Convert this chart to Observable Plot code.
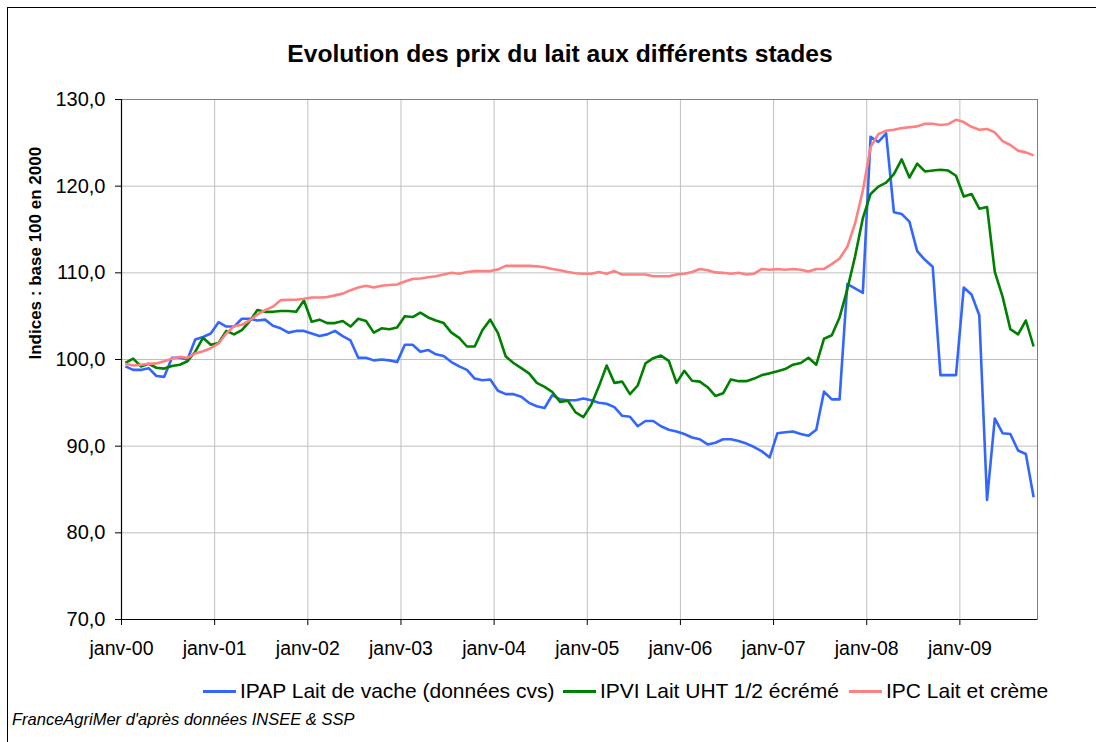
<!DOCTYPE html>
<html>
<head>
<meta charset="utf-8">
<script src="https://cdn.jsdelivr.net/npm/d3@7"></script>
<script src="https://cdn.jsdelivr.net/npm/@observablehq/plot@0.6"></script>
<style>
html, body { margin: 0; padding: 0; background: #fff; }
#chart { position: relative; width: 1096px; height: 742px; overflow: hidden; font-family: "Liberation Sans", Arial, sans-serif; color: #000; }
#border { position: absolute; left: 7px; top: 7px; width: 1120px; height: 780px; border: 1px solid #000; box-sizing: border-box; }
#title { position: absolute; left: 0; width: 1120px; top: 40px; text-align: center; font-weight: bold; font-size: 24.6px; white-space: nowrap; }
#plot { position: absolute; left: 0; top: 80px; }
.item { position: absolute; top: 678px; height: 26px; display: flex; align-items: center; font-size: 21px; white-space: nowrap; }
.sw { display: inline-block; width: 33px; height: 3px; margin-right: 4px; }
#caption { position: absolute; left: 12px; top: 710px; font-style: italic; font-size: 16.5px; white-space: nowrap; }
#plot g[aria-label^="y-axis"] text { font-size: 20px; }
</style>
</head>
<body>
<div id="chart">
  <div id="border"></div>
  <div id="title"></div>
  <div id="plot"></div>
  <div id="legend"></div>
  <div id="caption"></div>
</div>
<script>
// ---- data ----
const titleText = "Evolution des prix du lait aux différents stades";
const yTitle = "Indices : base 100 en 2000";
const captionText = "FranceAgriMer d'après données INSEE & SSP";

const seriesNames = ["IPAP Lait de vache (données cvs)", "IPVI Lait UHT 1/2 écrémé", "IPC Lait et crème"];
const seriesColors = ["#3366ff", "#008000", "#ff8080"];

const monthNames = ["janv", "févr", "mars", "avr", "mai", "juin", "juil", "août", "sept", "oct", "nov", "déc"];
const years = ["00", "01", "02", "03", "04", "05", "06", "07", "08", "09"];
// categories: janv-00 ... oct-09 (118 months)
const months = years.flatMap(y => monthNames.map(m => `${m}-${y}`)).slice(0, 118);

const xTickLabels = ["janv-00", "janv-01", "janv-02", "janv-03", "janv-04", "janv-05", "janv-06", "janv-07", "janv-08", "janv-09"];
const yTicks = [70, 80, 90, 100, 110, 120, 130];

const ipap = [
  99.2, 98.8, 98.8, 99.0, 98.1, 98.0, 100.2, 100.2, 100.0, 102.3, 102.6, 103.0,
  104.3, 103.8, 103.8, 104.7, 104.7, 104.5, 104.6, 103.9, 103.6, 103.1, 103.3, 103.3,
  103.0, 102.7, 102.9, 103.3, 102.7, 102.2, 100.2, 100.2, 99.9, 100.0, 99.9, 99.7,
  101.7, 101.7, 100.9, 101.1, 100.6, 100.4, 99.7, 99.2, 98.8, 97.8, 97.6, 97.7,
  96.4, 96.0, 96.0, 95.7, 95.0, 94.6, 94.4, 95.9, 95.4, 95.3, 95.3, 95.5,
  95.3, 95.0, 94.9, 94.5, 93.5, 93.4, 92.3, 92.9, 92.9, 92.3, 91.9, 91.7,
  91.4, 91.0, 90.8, 90.2, 90.4, 90.8, 90.8, 90.6, 90.3, 89.9, 89.4, 88.7,
  91.5, 91.6, 91.7, 91.4, 91.2, 91.9, 96.3, 95.4, 95.4, 108.7, 108.2, 107.7,
  125.7, 125.1, 126.1, 117.0, 116.8, 115.9, 112.5, 111.5, 110.7, 98.2, 98.2, 98.2,
  108.3, 107.5, 105.1, 83.8, 93.2, 91.5, 91.4, 89.5, 89.1, 84.1
];
const ipvi = [
  99.6, 100.1, 99.2, 99.5, 99.05, 98.95, 99.25, 99.4, 99.8, 100.9, 102.5, 101.7,
  101.9, 103.3, 102.9, 103.4, 104.4, 105.7, 105.5, 105.5, 105.6, 105.6, 105.5, 106.8,
  104.35, 104.6, 104.2, 104.2, 104.45, 103.8, 104.7, 104.45, 103.1, 103.6, 103.5, 103.7,
  105.0, 104.9, 105.4, 104.85, 104.5, 104.2, 103.1, 102.5, 101.5, 101.5, 103.4, 104.6,
  103.05, 100.35, 99.6, 99.0, 98.4, 97.3, 96.85, 96.25, 95.1, 95.25, 93.9, 93.35,
  94.75, 96.9, 99.3, 97.3, 97.45, 96.0, 97.0, 99.55, 100.15, 100.45, 99.85, 97.3,
  98.7, 97.55, 97.45, 96.8, 95.8, 96.1, 97.7, 97.5, 97.5, 97.8, 98.2, 98.4,
  98.65, 98.9, 99.4, 99.6, 100.2, 99.4, 102.4, 102.8, 104.85, 108.1, 111.9, 116.3,
  119.1, 119.95, 120.4, 121.4, 123.1, 121.0, 122.6, 121.7, 121.8, 121.9, 121.8, 121.2,
  118.8, 119.1, 117.4, 117.6, 110.1, 107.25, 103.5, 102.9, 104.5, 101.5
];
const ipc = [
  99.5, 99.3, 99.4, 99.5, 99.55, 99.8, 100.1, 100.3, 100.2, 100.7, 100.95, 101.3,
  101.85, 103.0, 103.85, 104.0, 104.5, 105.2, 105.7, 106.1, 106.85, 106.9, 106.9, 107.0,
  107.15, 107.15, 107.2, 107.4, 107.6, 108.0, 108.3, 108.5, 108.3, 108.5, 108.6, 108.65,
  109.0, 109.3, 109.35, 109.5, 109.6, 109.8, 110.0, 109.9, 110.1, 110.2, 110.2, 110.2,
  110.4, 110.8, 110.8, 110.8, 110.8, 110.75, 110.65, 110.45, 110.3, 110.1, 109.95, 109.9,
  109.9, 110.1, 109.9, 110.2, 109.8, 109.8, 109.8, 109.8, 109.6, 109.6, 109.6, 109.8,
  109.9, 110.1, 110.45, 110.3, 110.05, 110.0, 109.9, 110.0, 109.8, 109.9, 110.45, 110.35,
  110.45, 110.35, 110.45, 110.35, 110.15, 110.45, 110.45, 111.0, 111.65, 113.0, 115.7, 119.5,
  124.5, 126.0, 126.4, 126.5, 126.7, 126.8, 126.9, 127.2, 127.2, 127.05, 127.15, 127.65,
  127.4, 126.85, 126.5, 126.6, 126.2, 125.2, 124.75, 124.1, 123.9, 123.55
];

// ---- build table ----
const seriesValues = [ipap, ipvi, ipc];
const data = [];
seriesValues.forEach((vals, s) => {
  vals.forEach((v, i) => data.push({ series: seriesNames[s], month: months[i], idx: i, value: v }));
});
const nCats = months.length;
const xTickPos = xTickLabels.map(l => months.indexOf(l));
const fmtY = d => d.toFixed(1).replace(".", ",");

const chart = Plot.plot({
  width: 1096,
  height: 585,
  marginLeft: 121,
  marginRight: 59,
  marginTop: 19,
  marginBottom: 46,
  style: { fontFamily: '"Liberation Sans", Arial, sans-serif', fontSize: "19.5px", color: "#000", background: "transparent", overflow: "visible" },
  x: { type: "linear", domain: [0, nCats], ticks: xTickPos, tickFormat: d => xTickLabels[xTickPos.indexOf(d)], tickSize: 6, tickPadding: 16, label: null },
  y: { domain: [70, 130], ticks: yTicks, tickFormat: fmtY, tickSize: 6, tickPadding: 10, label: null },
  color: { domain: seriesNames, range: seriesColors },
  marks: [
    Plot.ruleY(yTicks, { stroke: "#c0c0c0", strokeWidth: 1 }),
    Plot.ruleX(xTickPos, { stroke: "#c0c0c0", strokeWidth: 1 }),
    Plot.frame({ stroke: "#808080" }),
    Plot.lineY(data, { x: d => d.idx + 0.5, y: "value", z: "series", stroke: "series", strokeWidth: 2.6, strokeLinejoin: "round", strokeLinecap: "butt", curve: "linear" }),
    Plot.ruleX([0], { stroke: "#000", strokeWidth: 1.2 }),
    Plot.ruleY([70], { stroke: "#000", strokeWidth: 1.2 }),
    Plot.text([yTitle], { text: d => d, frameAnchor: "left", rotate: -90, dx: -86, fontWeight: "bold", fontSize: 17 })
  ]
});
document.getElementById("plot").appendChild(chart);

document.getElementById("title").textContent = titleText;
document.getElementById("caption").textContent = captionText;

const legendLeft = [203, 563, 849];
const legend = document.getElementById("legend");
seriesNames.forEach((name, i) => {
  const item = document.createElement("div");
  item.className = "item";
  item.style.left = legendLeft[i] + "px";
  const sw = document.createElement("span");
  sw.className = "sw";
  sw.style.background = seriesColors[i];
  const tx = document.createElement("span");
  tx.textContent = name;
  item.appendChild(sw);
  item.appendChild(tx);
  legend.appendChild(item);
});
</script>
</body>
</html>
